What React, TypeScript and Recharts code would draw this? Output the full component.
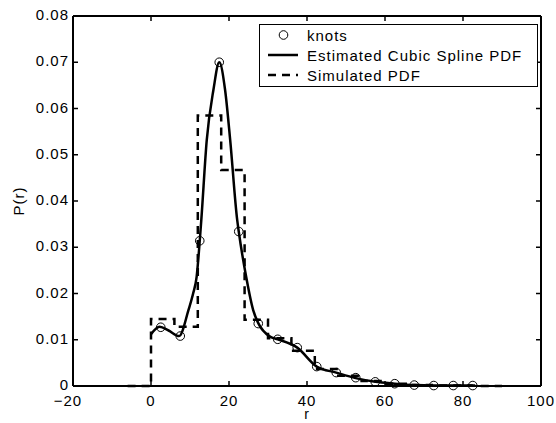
import { ComposedChart, Line, XAxis, YAxis, ReferenceLine } from 'recharts';

// knots of the estimated spline (r, P(r))
const knotR = [2.5, 7.5, 12.5, 17.5, 22.5, 27.5, 32.5, 37.5, 42.5, 47.5, 52.5, 57.5, 62.5, 67.5, 72.5, 77.5, 82.5];
const knotP = [0.0127, 0.0108, 0.0314, 0.07, 0.0334, 0.0135, 0.0101, 0.0083, 0.0042, 0.0029, 0.0018, 0.0009, 0.0005, 0.0002, 0.0001, 0.0001, 0.0001];

// points
const splineR = [0, 2.2, 4.5, 7.2, 9.6, 10.8, 11.7, 12.5, 12.9, 14.3, 16, 17.5, 19, 20.3, 22.1, 22.5, 24.4, 26.2, 27.5, 30.5, 32.5, 37.5, 42.5, 47.5, 52.5, 57.5, 62.5, 67.5, 72.5, 77.5, 82.5];
const splineP = [0.0112, 0.0128, 0.012, 0.0108, 0.0164, 0.02, 0.0236, 0.0314, 0.0359, 0.0532, 0.064, 0.07, 0.064, 0.0532, 0.0359, 0.0334, 0.0236, 0.0164, 0.0136, 0.0107, 0.0101, 0.0083, 0.0042, 0.0029, 0.0017, 0.0009, 0.0005, 0.0002, 0.0001, 0.0001, 0.0001];

// simulated histogram: value from each edge to the next
const binEdges = [-6, 0, 6, 12, 18, 24, 30, 36, 42, 48, 54, 60, 66, 72, 78, 84, 90];
const binP = [0, 0.0145, 0.0128, 0.0585, 0.0467, 0.0143, 0.0103, 0.0076, 0.0037, 0.0022, 0.0011, 0.0005, 0.0002, 0.0001, 0.0001, 0, 0];

const xTicks = [-20, 0, 20, 40, 60, 80, 100];
const yTicks = [0, 0.01, 0.02, 0.03, 0.04, 0.05, 0.06, 0.07, 0.08];
const seriesNames = ['knots', 'Estimated Cubic Spline PDF', 'Simulated PDF'];

const knots = knotR.map((r, i) => ({ r, p: knotP[i] }));
const spline = splineR.map((r, i) => ({ r, p: splineP[i] }));
const simulated = binEdges.map((r, i) => ({ r, p: binP[i] }));

const W = 556;
const H = 423;
const M = { top: 16, right: 15, bottom: 0, left: 0 };
const Y_AXIS_W = 73;
const X_AXIS_H = 37;
const PLOT_W = W - M.left - M.right - Y_AXIS_W;
const PLOT_H = H - M.top - M.bottom - X_AXIS_H;

const FONT = '"Liberation Sans", Arial, Helvetica, sans-serif';
const textStyle = { fontFamily: FONT, fontSize: 15, letterSpacing: 1, fill: '#000' };

// ticks point inward, mirrored on the top edge; first tick also draws the top frame
function BottomTick({ x, y, payload, index }: any) {
  const v = payload.value;
  return (
    <g>
      {index === 0 && (
        <line x1={x} x2={x + PLOT_W} y1={y - PLOT_H} y2={y - PLOT_H} stroke="#000" strokeWidth={2} />
      )}
      <line x1={x} x2={x} y1={y} y2={y - 5} stroke="#000" strokeWidth={1.5} />
      <line x1={x} x2={x} y1={y - PLOT_H} y2={y - PLOT_H + 5} stroke="#000" strokeWidth={1.5} />
      <text x={x} y={y + 20} dx={v < 0 ? -5 : 0} textAnchor="middle" style={textStyle}>
        {v < 0 ? '\u2212' + Math.abs(v) : String(v)}
      </text>
    </g>
  );
}

// ticks point inward, mirrored on the right edge; first tick also draws the right frame
function LeftTick({ x, y, payload, index }: any) {
  const v = payload.value;
  return (
    <g>
      {index === 0 && (
        <line x1={x + PLOT_W} x2={x + PLOT_W} y1={y} y2={y - PLOT_H} stroke="#000" strokeWidth={2} />
      )}
      <line x1={x} x2={x + 5} y1={y} y2={y} stroke="#000" strokeWidth={1.5} />
      <line x1={x + PLOT_W} x2={x + PLOT_W - 5} y1={y} y2={y} stroke="#000" strokeWidth={1.5} />
      <text x={x - 4} y={y + 4} textAnchor="end" style={textStyle}>
        {v === 0 ? '0' : v.toFixed(2)}
      </text>
    </g>
  );
}

function LegendBox() {
  const rowY = [10, 30, 50];
  return (
    <div
      style={{
        position: 'absolute',
        left: 259,
        top: 24,
        width: 279,
        height: 63,
        boxSizing: 'border-box',
        border: '1px solid #000',
        background: '#fff',
      }}
    >
      <svg width={277} height={61} style={{ display: 'block' }}>
        <circle cx={23.5} cy={rowY[0]} r={4.3} fill="none" stroke="#000" strokeWidth={1} />
        <line x1={8} x2={38} y1={rowY[1]} y2={rowY[1]} stroke="#000" strokeWidth={2.5} />
        <line x1={8} x2={38} y1={rowY[2]} y2={rowY[2]} stroke="#000" strokeWidth={2.5} strokeDasharray="8 6" />
        {seriesNames.map((n, i) => (
          <text key={n} x={47} y={rowY[i] + 5.5} style={textStyle}>
            {n}
          </text>
        ))}
      </svg>
    </div>
  );
}

export default function App() {
  return (
    <div style={{ position: 'fixed', left: 0, top: 0, width: W, height: H, background: '#fff' }}>
      <ComposedChart width={W} height={H} margin={M}>
        <XAxis
          dataKey="r"
          type="number"
          domain={[-20, 100]}
          ticks={xTicks}
          height={X_AXIS_H}
          tickSize={0}
          tickMargin={0}
          tickLine={false}
          tick={<BottomTick />}
          axisLine={{ stroke: '#000', strokeWidth: 2 }}
          label={{
            value: 'r',
            content: ({ viewBox }: any) => (
              <text x={viewBox.x + viewBox.width / 2} y={419} textAnchor="middle" style={{ ...textStyle, fontSize: 14 }}>
                r
              </text>
            ),
          }}
        />
        <YAxis
          type="number"
          domain={[0, 0.08]}
          ticks={yTicks}
          width={Y_AXIS_W}
          tickSize={0}
          tickMargin={0}
          tickLine={false}
          tick={<LeftTick />}
          axisLine={{ stroke: '#000', strokeWidth: 2 }}
          label={{
            value: 'P(r)',
            content: ({ viewBox }: any) => {
              const cy = viewBox.y + viewBox.height / 2;
              return (
                <text x={24} y={cy} transform={`rotate(-90 24 ${cy})`} textAnchor="middle" style={textStyle}>
                  P(r)
                </text>
              );
            },
          }}
        />
        <ReferenceLine y={0.08} stroke="#000" strokeWidth={2} ifOverflow="visible" />
        <ReferenceLine x={100} stroke="#000" strokeWidth={2} ifOverflow="visible" />
        <Line
          name={seriesNames[2]}
          data={simulated}
          dataKey="p"
          type="stepAfter"
          stroke="#000"
          strokeWidth={2.5}
          strokeDasharray="8 6"
          dot={false}
          isAnimationActive={false}
        />
        <Line
          name={seriesNames[1]}
          data={spline}
          dataKey="p"
          type="monotone"
          stroke="#000"
          strokeWidth={2.5}
          dot={false}
          isAnimationActive={false}
        />
        <Line
          name={seriesNames[0]}
          data={knots}
          dataKey="p"
          stroke="none"
          dot={{ r: 4.3, fill: 'none', stroke: '#000', strokeWidth: 1 }}
          isAnimationActive={false}
        />
      </ComposedChart>
      <LegendBox />
    </div>
  );
}
